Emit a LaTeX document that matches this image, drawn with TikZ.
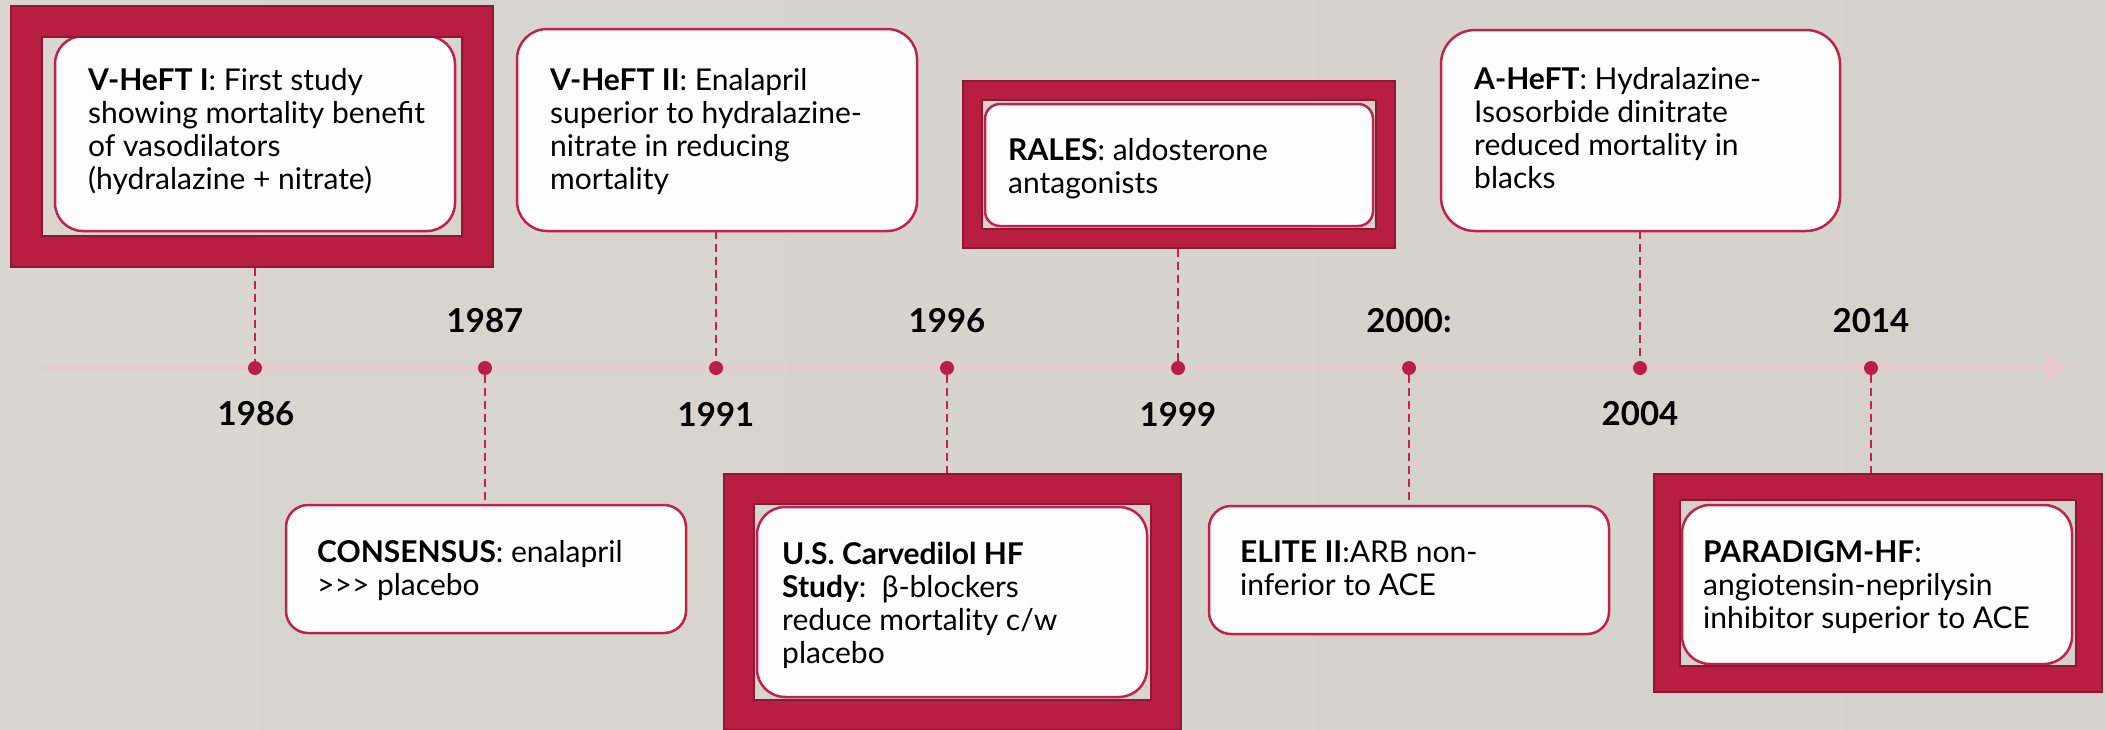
\documentclass[tikz,border=0pt]{standalone}
\usepackage{fontspec}
\setmainfont{Lato}
\usetikzlibrary{arrows.meta}
\definecolor{bgL}{HTML}{D9D5CF}
\definecolor{bgM}{HTML}{E6E4E0}
\definecolor{bgR}{HTML}{D5D1CB}
\definecolor{framered}{HTML}{B71E42}
\definecolor{framedark}{HTML}{8F1733}
\definecolor{boxred}{HTML}{BE2449}
\definecolor{boxfill}{HTML}{FCFCFC}
\definecolor{dotred}{HTML}{BA1E44}
\definecolor{connred}{HTML}{C02449}
\definecolor{pinkline}{HTML}{EAC8CE}
\begin{document}
\begin{tikzpicture}[x=1pt,y=-1pt,
  wbox/.style={draw=boxred, line width=2.5pt, fill=boxfill, rounded corners=#1, inner sep=0pt, outer sep=0pt},
  wbox/.default=28pt,
  frm/.style={draw=framedark, line width=2pt, double=framered, double distance=#1, inner sep=0pt},
  dot/.style={circle, fill=dotred, minimum size=14pt, inner sep=0pt},
  conn/.style={draw=connred, line width=2pt, dash pattern=on 8pt off 5pt},
  txt/.style={font=\fontsize{30}{33}\selectfont, align=left, anchor=north west, inner sep=0pt, text=black},
  yr/.style={font=\fontsize{33}{33}\selectfont\bfseries, inner sep=0pt, text=black},
  tline/.style={draw=pinkline, line width=4pt, -{Triangle[length=24pt,width=24pt]}}
]
\useasboundingbox (0,0) rectangle (2106,729);
\shade[left color=bgL, middle color=bgM, right color=bgR] (0,0) rectangle (2106,729);

% timeline
\coordinate (tl0) at (41,368);
\coordinate (tl1) at (2069,368);
\draw[tline] (tl0) -- (tl1);

% dots
\node[dot] (d1) at (255,368) {};
\node[dot] (d2) at (485,368) {};
\node[dot] (d3) at (716,368) {};
\node[dot] (d4) at (947,368) {};
\node[dot] (d5) at (1178,368) {};
\node[dot] (d6) at (1409,368) {};
\node[dot] (d7) at (1640,368) {};
\node[dot] (d8) at (1871,368) {};

% white boxes
\node[wbox, minimum width=400pt, minimum height=195pt] (w1) at (255,133.5) {};
\node[wbox=30pt, minimum width=400pt, minimum height=202pt] (w2) at (717,130) {};
\node[wbox=15pt, minimum width=388pt, minimum height=122pt] (w3) at (1179,165) {};
\node[wbox=34pt, minimum width=399pt, minimum height=201pt] (w4) at (1640.5,130.5) {};
\node[wbox=22pt, minimum width=400pt, minimum height=128pt] (w5) at (486,569) {};
\node[wbox, minimum width=390pt, minimum height=190pt] (w6) at (952,602) {};
\node[wbox=22pt, minimum width=400pt, minimum height=128pt] (w7) at (1409,570) {};
\node[wbox, minimum width=390pt, minimum height=159pt] (w8) at (1877,584.5) {};

% frames
\node[frm=29pt, outer sep=16.5pt, minimum width=451pt, minimum height=230pt] (f1) at (252,136.5) {};
\node[frm=17pt, outer sep=10.5pt, minimum width=413pt, minimum height=148pt] (f3) at (1179,164.5) {};
\node[frm=28pt, outer sep=16pt, minimum width=427pt, minimum height=226pt] (f6) at (952.5,602) {};
\node[frm=24pt, outer sep=14pt, minimum width=422pt, minimum height=192pt] (f8) at (1878,583) {};

% connectors
\draw[conn] (d1 |- f1.south) -- (d1.north);
\draw[conn] (d3 |- w2.south) -- (d3.north);
\draw[conn] (d5 |- f3.south) -- (d5.north);
\draw[conn] (d7 |- w4.south) -- (d7.north);
\draw[conn] (d2.south) -- (d2 |- w5.north);
\draw[conn] (d4.south) -- (d4 |- f6.north);
\draw[conn] (d6.south) -- (d6 |- w7.north);
\draw[conn] (d8.south) -- (d8 |- f8.north);

% texts
\node[txt] (t1) at (88,67) {\strut\textbf{V-HeFT I}: First study\\showing mortality benefit\\of vasodilators\\(hydralazine + nitrate)};
\node[txt] (t2) at (550,67) {\strut\textbf{V-HeFT II}: Enalapril\\superior to hydralazine-\\nitrate in reducing\\mortality};
\node[txt] (t3) at (1008,137) {\strut\textbf{RALES}: aldosterone\\antagonists};
\node[txt] (t4) at (1474,66) {\strut\textbf{A-HeFT}: Hydralazine-\\Isosorbide dinitrate\\reduced mortality in\\blacks};
\node[txt] (t5) at (317,539) {\strut\textbf{CONSENSUS}: enalapril\\{>}{>}{>} placebo};
\node[txt] (t6) at (782,541) {\strut\textbf{U.S. Carvedilol HF}\\\textbf{Study}:\ \ β-blockers\\reduce mortality c/w\\placebo};
\node[txt] (t7) at (1240,539) {\strut\textbf{ELITE II}:ARB non-\\inferior to ACE};
\node[txt] (t8) at (1703,539) {\strut\textbf{PARADIGM-HF}:\\angiotensin-neprilysin\\inhibitor superior to ACE};

% years
\node[yr] (y1) at (256,414) {1986};
\node[yr] (y2) at (485,321) {1987};
\node[yr] (y3) at (716,414) {1991};
\node[yr] (y4) at (947,321) {1996};
\node[yr] (y5) at (1178,414) {1999};
\node[yr] (y6) at (1409,321) {2000:};
\node[yr] (y7) at (1640,414) {2004};
\node[yr] (y8) at (1871,321) {2014};
\end{tikzpicture}
\end{document}
